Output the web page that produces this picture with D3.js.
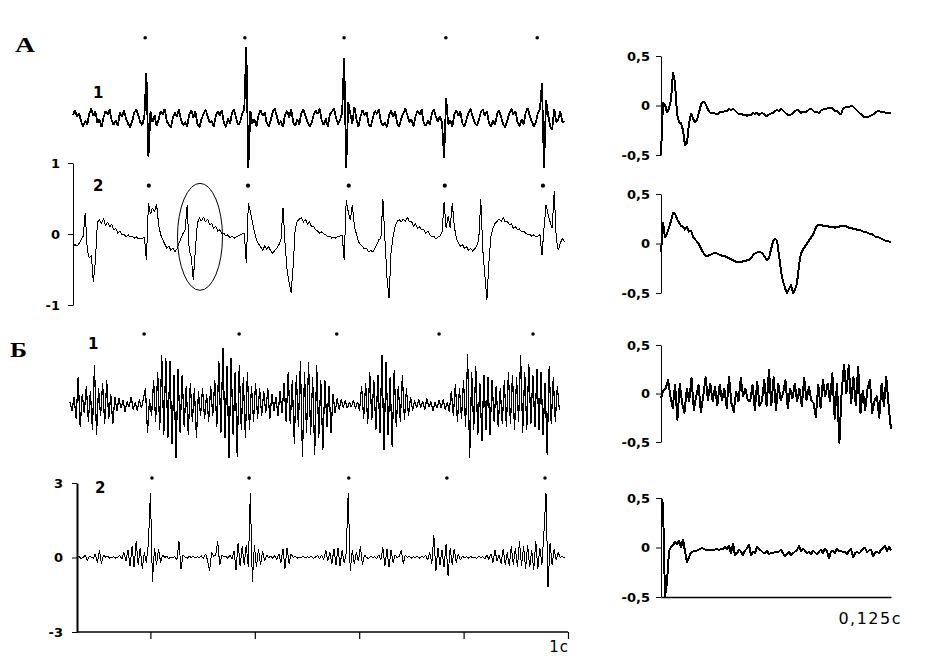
<!DOCTYPE html>
<html>
<head>
<meta charset="utf-8">
<script src="https://cdn.jsdelivr.net/npm/d3@7"></script>
<style>
  body { margin: 0; background: #ffffff; }
  svg text { fill: #000; }
</style>
</head>
<body>
<div id="chart"></div>
<script>
// ======== Data ========

// long recordings are sampled at 256 Hz, times in seconds
const sampleRate = 256;
const leftTickTimes = [0.2, 0.4, 0.6, 0.8, 1.0];
const shortDuration = 0.125;

// А1 - arbitrary units, no axis shown
const a1Start = 0.0517;
const a1Trace = [
    0.04, 0.11, 0.02, 0.07, -0.05, -0.12, -0.04, -0.09, 0.06, 0.13,
    0.03, 0.09, -0.07, -0.02, -0.13, 0.01, 0.10, 0.05, 0.12, -0.04,
    -0.10, -0.03, -0.11, 0.08, 0.02, 0.11, -0.01, -0.08, -0.13, -0.05,
    0.07, 0.12, 0.04, -0.06, -0.10, 0.02, 0.63, -0.55, 0.09, -0.06,
    0.04, -0.11, -0.02, 0.10, 0.05, 0.13, -0.05, -0.09, -0.14, 0.00,
    0.08, 0.02, 0.12, -0.03, -0.10, -0.06, -0.12, 0.05, 0.11, 0.01,
    0.09, -0.08, -0.13, -0.02, 0.06, 0.12, 0.03, -0.07, -0.04, -0.12,
    0.02, 0.10, 0.04, 0.11, -0.06, -0.13, -0.01, -0.08, 0.07, 0.12,
    0.00, -0.10, -0.05, 0.06, 0.12, 1.00, -0.70, 0.10, -0.08, -0.02,
    -0.12, 0.04, 0.11, 0.03, 0.08, -0.07, -0.12, -0.03, 0.09, 0.13,
    0.02, -0.09, -0.04, -0.13, 0.05, 0.10, 0.01, 0.12, -0.06, -0.11,
    -0.02, -0.09, 0.07, 0.12, 0.03, -0.05, -0.12, -0.07, 0.04, 0.11,
    0.06, 0.13, -0.04, -0.10, -0.01, -0.12, 0.05, 0.09, 0.14, 0.00,
    -0.09, -0.03, 0.07, 0.85, -0.70, 0.22, 0.06, -0.08, 0.16, -0.02,
    -0.12, 0.02, 0.11, 0.04, 0.08, -0.09, -0.12, -0.01, 0.10, 0.06,
    0.12, -0.05, -0.11, -0.06, -0.13, 0.04, 0.11, 0.02, 0.09, -0.08,
    -0.12, -0.01, 0.07, 0.13, 0.04, -0.06, -0.02, -0.12, 0.03, 0.10,
    0.05, 0.12, -0.07, -0.11, -0.04, -0.09, 0.06, 0.12, 0.01, -0.05,
    0.03, -0.07, -0.56, 0.28, -0.09, -0.03, -0.13, 0.05, 0.11, 0.03,
    0.09, -0.08, -0.12, -0.02, 0.07, 0.13, 0.02, -0.06, -0.11, -0.04,
    0.08, 0.12, 0.03, 0.10, -0.07, -0.12, -0.03, -0.10, 0.06, 0.11,
    0.01, -0.09, -0.13, -0.04, 0.07, 0.13, 0.05, 0.10, -0.06, -0.12,
    -0.02, -0.09, 0.08, 0.14, 0.03, -0.05, -0.12, -0.06, 0.07, 0.12,
    0.49, -0.70, 0.25, 0.05, -0.12, -0.16, 0.13, -0.06, -0.02, 0.09,
    -0.05, -0.06
];
const a1Marks = [0.190, 0.381, 0.571, 0.766, 0.941];

// А2
const a2Start = 0.0517;
const a2Ticks = [1, 0, -1];
const a2Trace = [
    -0.18, -0.15, -0.17, -0.13, -0.08, -0.03, 0.30, -0.22, -0.34, -0.30,
    -0.68, -0.37, 0.17, 0.20, 0.15, 0.22, 0.11, 0.17, 0.10, 0.14,
    0.06, 0.08, 0.01, 0.04, -0.01, 0.00, -0.04, -0.01, -0.04, -0.03,
    -0.06, -0.04, -0.07, -0.06, -0.07, -0.04, -0.37, 0.44, 0.28, 0.37,
    0.31, 0.42, 0.13, -0.01, -0.08, -0.14, -0.20, -0.17, -0.23, -0.20,
    -0.25, -0.21, -0.13, -0.06, 0.01, 0.06, 0.41, -0.23, -0.32, -0.65,
    -0.23, 0.15, 0.23, 0.18, 0.24, 0.17, 0.21, 0.13, 0.15, 0.08,
    0.11, 0.04, 0.06, 0.00, 0.01, -0.03, -0.01, -0.06, -0.03, -0.06,
    -0.04, -0.03, -0.01, 0.00, 0.01, -0.41, 0.44, 0.31, 0.17, 0.03,
    -0.08, -0.14, -0.18, -0.23, -0.17, -0.21, -0.18, -0.24, -0.27, -0.23,
    -0.20, -0.15, -0.08, 0.37, -0.13, -0.51, -0.68, -0.83, -0.44, 0.08,
    0.18, 0.21, 0.23, 0.17, 0.21, 0.14, 0.17, 0.10, 0.11, 0.06,
    0.04, 0.01, 0.03, 0.00, -0.01, -0.04, -0.03, -0.06, -0.04, -0.06,
    -0.03, -0.03, -0.01, -0.37, 0.48, 0.31, 0.20, 0.41, 0.11, 0.00,
    -0.11, -0.15, -0.18, -0.21, -0.20, -0.25, -0.23, -0.25, -0.21, -0.15,
    -0.08, -0.06, 0.49, -0.08, -0.62, -0.90, -0.25, -0.03, 0.11, 0.18,
    0.20, 0.17, 0.21, 0.18, 0.24, 0.17, 0.18, 0.11, 0.14, 0.08,
    0.10, 0.06, 0.07, 0.01, 0.04, -0.01, -0.04, -0.03, -0.07, -0.04,
    -0.03, 0.03, 0.45, 0.08, 0.25, 0.08, 0.44, 0.11, -0.06, -0.13,
    -0.17, -0.15, -0.20, -0.18, -0.23, -0.20, -0.24, -0.21, -0.17, -0.08,
    0.49, -0.23, -0.58, -0.93, -0.39, -0.03, 0.08, 0.15, 0.18, 0.21,
    0.18, 0.23, 0.17, 0.18, 0.13, 0.14, 0.08, 0.10, 0.06, 0.07,
    0.03, 0.04, 0.01, -0.01, 0.00, -0.03, -0.01, -0.04, -0.03, -0.01,
    -0.30, 0.08, 0.41, 0.28, 0.17, 0.08, 0.60, -0.06, -0.23, -0.13,
    -0.06, -0.11
];
const a2Marks = [0.197, 0.387, 0.580, 0.764, 0.952];

// Б1 - arbitrary units, no axis shown
const b1Start = 0.046;
const b1Trace = [
    0.05, -0.10, 0.15, -0.25, 0.50, -0.40, 0.20, -0.15, 0.35, -0.30,
    0.25, -0.45, 0.73, -0.55, 0.30, -0.20, 0.40, -0.35, 0.45, -0.25,
    0.20, -0.35, 0.15, -0.10, 0.12, -0.05, 0.08, -0.12, 0.06, -0.04,
    0.15, -0.08, 0.05, -0.10, 0.10, -0.06, 0.12, 0.30, -0.50, 0.10,
    -0.20, 0.45, -0.30, 0.60, -0.45, 0.90, -0.55, 0.85, -0.60, 0.80,
    -0.70, 0.55, -0.96, 0.65, -0.50, 0.55, -0.40, 0.35, -0.55, 0.40,
    -0.30, 0.30, -0.60, 0.25, -0.20, 0.30, -0.25, 0.20, -0.30, 0.35,
    -0.20, 0.45, -0.40, 0.80, -0.50, 1.04, -0.60, 0.70, -0.96, 0.85,
    -0.55, 0.60, -0.94, 0.72, -0.45, 0.50, -0.60, 0.60, -0.45, 0.35,
    -0.30, 0.40, -0.25, 0.30, -0.20, 0.25, -0.15, 0.30, -0.25, 0.20,
    -0.10, 0.15, -0.20, 0.25, -0.15, 0.40, -0.30, 0.60, -0.35, 0.45,
    -0.70, 0.55, -0.40, 0.80, -0.95, 0.60, -0.50, 0.78, -0.55, 0.50,
    -0.91, 0.72, -0.60, 0.45, -0.82, 0.45, -0.40, 0.35, -0.50, 0.20,
    -0.15, 0.12, -0.08, 0.10, -0.05, 0.08, -0.06, 0.05, -0.04, 0.09,
    -0.07, 0.06, -0.10, 0.35, -0.25, 0.40, -0.35, 0.60, -0.28, 0.45,
    -0.45, 0.55, -0.50, 0.90, -0.82, 0.78, -0.55, 0.50, -0.77, 0.64,
    -0.40, 0.35, -0.30, 0.55, -0.28, 0.30, -0.20, 0.15, -0.10, 0.08,
    -0.06, 0.10, -0.05, 0.07, -0.08, 0.12, -0.04, 0.06, -0.10, 0.05,
    -0.06, 0.08, -0.05, 0.10, -0.08, 0.05, -0.12, 0.25, -0.20, 0.38,
    -0.30, 0.30, -0.25, 0.45, -0.40, 0.93, -0.96, 0.60, -0.45, 0.70,
    -0.55, 0.40, -0.65, 0.55, -0.45, 0.50, -0.55, 0.45, -0.30, 0.35,
    -0.40, 0.30, -0.35, 0.45, -0.40, 0.60, -0.35, 0.55, -0.45, 0.50,
    -0.30, 0.91, -0.50, 0.60, -0.45, 0.75, -0.35, 0.55, -0.40, 0.65,
    -0.45, 0.60, -0.55, 0.40, -0.90, 0.70, -0.35, 0.50, -0.30, 0.35,
    -0.10
];
const b1Marks = [0.188, 0.370, 0.557, 0.753, 0.933];

// Б2
const b2Start = 0.0594;
const b2Ticks = [3, 0, -3];
const b2Trace = [
    0.00, 0.05, -0.05, 0.00, 0.10, -0.12, 0.05, 0.02, -0.03, 0.15,
    -0.20, 0.30, -0.25, 0.10, 0.02, 0.05, -0.02, 0.00, 0.04, -0.03,
    0.02, 0.08, -0.06, 0.20, -0.15, 0.30, -0.35, 0.45, -0.40, 0.65,
    -0.30, 0.40, -0.45, 0.20, -0.20, 0.55, 2.60, -0.97, 0.40, -0.30,
    0.35, -0.20, 0.10, 0.00, 0.05, -0.05, 0.02, 0.00, 0.04, -0.10,
    0.65, -0.45, 0.10, 0.02, -0.03, 0.05, 0.00, 0.04, -0.02, 0.03,
    0.00, 0.06, -0.04, 0.15, -0.10, -0.55, 0.20, 0.05, 0.10, 0.65,
    -0.30, 0.10, 0.02, 0.05, -0.03, 0.10, -0.05, 0.25, -0.50, 0.60,
    -0.35, 0.45, -0.30, 0.50, -0.40, 2.60, -1.00, 0.50, -0.40, 0.35,
    -0.30, 0.25, -0.15, 0.10, 0.00, 0.05, -0.03, 0.08, -0.10, 0.15,
    -0.20, 0.35, -0.45, 0.40, -0.25, 0.15, 0.00, 0.05, -0.03, 0.02,
    0.00, 0.04, -0.02, 0.03, 0.00, 0.05, -0.04, 0.02, 0.08, -0.05,
    0.10, -0.08, 0.30, -0.15, 0.20, -0.25, 0.35, -0.30, 0.40, -0.35,
    0.30, -0.20, 0.15, 2.60, -0.55, 0.30, -0.25, 0.20, -0.15, 0.45,
    -0.30, 0.10, 0.00, -0.05, 0.05, 0.00, 0.03, -0.04, 0.10, -0.10,
    0.40, -0.35, 0.35, -0.40, 0.30, -0.20, 0.10, 0.00, 0.05, 0.30,
    -0.25, 0.10, 0.00, 0.04, -0.02, 0.03, 0.00, 0.05, -0.03, 0.04,
    0.00, 0.08, -0.10, 0.20, -0.25, 0.90, -0.55, 0.40, -0.30, 0.30,
    -0.40, 0.55, -0.75, 0.40, -0.30, 0.35, -0.20, 0.15, -0.10, 0.05,
    0.00, 0.03, -0.02, 0.04, 0.00, 0.02, -0.03, 0.05, 0.00, 0.03,
    -0.05, 0.10, -0.08, 0.15, -0.20, 0.30, -0.15, 0.10, -0.25, 0.35,
    -0.30, 0.20, -0.35, 0.45, -0.30, 0.40, -0.40, 0.65, -0.35, 0.45,
    -0.45, 0.50, -0.40, 0.30, -0.50, 0.65, -0.45, 0.40, -0.30, 1.00,
    2.60, -1.20, 0.60, -0.30, 0.35, -0.10, 0.20, 0.00, 0.05, -0.02
];
const b2Marks = [0.203, 0.389, 0.580, 0.768, 0.956];

// short windows on the right (0 .. 0.125 s)
const rightTicks = [0.5, 0, -0.5];

const rightA1Trace = [
    -0.50, 0.03, 0.01, -0.07, -0.03, 0.06, 0.33, 0.23, -0.08, -0.17,
    -0.18, -0.25, -0.40, -0.38, -0.18, -0.08, -0.13, -0.17, -0.15, -0.07,
    0.01, 0.04, 0.03, -0.02, -0.06, -0.08, -0.07, -0.08, -0.09, -0.08,
    -0.06, -0.07, -0.05, -0.06, -0.03, -0.05, -0.03, -0.05, -0.07, -0.09,
    -0.08, -0.10, -0.09, -0.11, -0.09, -0.10, -0.07, -0.09, -0.07, -0.10,
    -0.08, -0.08, -0.10, -0.11, -0.09, -0.08, -0.08, -0.06, -0.04, -0.06,
    -0.03, -0.05, -0.07, -0.09, -0.10, -0.09, -0.08, -0.06, -0.04, -0.05,
    -0.08, -0.06, -0.07, -0.06, -0.04, -0.03, -0.05, -0.07, -0.06, -0.08,
    -0.05, -0.04, -0.04, -0.03, -0.03, -0.02, -0.03, -0.06, -0.05, -0.08,
    -0.09, -0.03, -0.02, -0.01, -0.02, 0.00, -0.01, -0.03, -0.05, -0.07,
    -0.09, -0.11, -0.12, -0.12, -0.11, -0.10, -0.09, -0.08, -0.06, -0.05,
    -0.07, -0.06, -0.07, -0.08, -0.07, -0.08
];

const rightA2Trace = [
    -0.09, 0.21, 0.06, 0.10, 0.16, 0.23, 0.31, 0.30, 0.25, 0.21,
    0.18, 0.17, 0.14, 0.17, 0.12, 0.13, 0.07, 0.04, 0.02, -0.01,
    -0.05, -0.09, -0.12, -0.13, -0.12, -0.11, -0.10, -0.10, -0.10, -0.11,
    -0.12, -0.13, -0.13, -0.14, -0.15, -0.16, -0.17, -0.18, -0.19, -0.19,
    -0.19, -0.18, -0.18, -0.17, -0.17, -0.15, -0.12, -0.10, -0.09, -0.08,
    -0.09, -0.11, -0.14, -0.17, -0.15, -0.06, 0.02, 0.05, 0.03, -0.12,
    -0.28, -0.38, -0.45, -0.50, -0.46, -0.42, -0.50, -0.47, -0.40, -0.22,
    -0.10, -0.06, -0.03, 0.00, 0.03, 0.06, 0.09, 0.14, 0.18, 0.19,
    0.19, 0.18, 0.18, 0.18, 0.17, 0.17, 0.17, 0.16, 0.17, 0.17,
    0.18, 0.18, 0.18, 0.17, 0.16, 0.16, 0.15, 0.15, 0.14, 0.14,
    0.13, 0.12, 0.12, 0.11, 0.10, 0.10, 0.09, 0.07, 0.07, 0.06,
    0.05, 0.04, 0.03, 0.03, 0.02, 0.01
];

const rightB1Trace = [
    -0.05, 0.03, 0.05, 0.14, -0.03, -0.15, 0.09, -0.27, 0.10, -0.10,
    -0.20, 0.05, -0.08, 0.16, -0.17, -0.03, 0.09, -0.19, -0.03, 0.17,
    -0.07, 0.10, -0.08, 0.07, -0.12, 0.09, -0.07, 0.05, -0.15, 0.17,
    -0.10, -0.19, 0.02, -0.08, 0.16, -0.03, 0.05, -0.07, -0.08, 0.09,
    -0.17, 0.12, -0.13, -0.08, 0.14, -0.13, 0.24, -0.12, 0.17, -0.17,
    0.10, -0.07, 0.00, 0.14, -0.15, 0.05, -0.05, 0.10, -0.08, 0.05,
    -0.13, 0.16, -0.07, 0.07, -0.07, -0.10, -0.24, 0.09, -0.15, 0.14,
    -0.03, 0.10, -0.08, 0.21, -0.26, 0.10, -0.51, 0.03, 0.30, 0.00,
    0.29, -0.10, 0.17, -0.12, 0.27, -0.20, 0.03, -0.17, 0.05, 0.14,
    -0.20, -0.07, -0.03, -0.25, 0.10, -0.13, 0.17, -0.13, -0.37
];

const rightB2Trace = [
    0.50, 0.45, -0.50, -0.35, -0.04, 0.01, 0.02, 0.06, 0.03, 0.07,
    0.00, 0.08, -0.04, -0.15, -0.10, -0.05, -0.04, -0.04, -0.03, -0.02,
    -0.01, -0.01, -0.02, -0.03, -0.03, -0.02, -0.03, -0.02, -0.01, -0.03,
    -0.01, -0.02, 0.01, -0.02, 0.02, -0.06, 0.04, -0.08, -0.06, -0.02,
    -0.04, -0.08, -0.03, -0.01, 0.03, -0.08, -0.04, -0.06, 0.01, -0.02,
    -0.03, -0.05, -0.06, -0.03, -0.07, -0.05, -0.06, -0.04, -0.05, -0.04,
    -0.02, -0.06, -0.09, -0.07, -0.04, -0.08, -0.06, -0.04, -0.03, 0.02,
    -0.04, -0.01, -0.03, -0.06, -0.04, -0.07, -0.03, -0.05, -0.07, -0.04,
    -0.02, -0.06, -0.01, -0.04, -0.11, -0.04, -0.03, -0.06, -0.01, -0.04,
    -0.03, -0.05, -0.04, -0.07, -0.03, -0.01, -0.10, -0.06, -0.04, -0.06,
    -0.04, -0.01, 0.00, -0.05, -0.03, -0.02, -0.09, -0.05, -0.04, -0.06,
    -0.02, -0.01, 0.02, -0.04, 0.01, -0.03
];


// ======== Layout ========
const width = 935;
const height = 669;

const svg = d3.select("#chart")
    .append("svg")
    .attr("width", width)
    .attr("height", height);

// time scales: left = 1 s recordings, right = 0.125 s windows
const xLong = d3.scaleLinear().domain([0, 1]).range([46, 568]);
const xShort = d3.scaleLinear().domain([0, shortDuration]).range([661, 891]);

// y scales for each strip
const yA1 = d3.scaleLinear().domain([-1, 1]).range([189, 47]);
const yA2 = d3.scaleLinear().domain([-1, 1]).range([305, 163]);
const yB1 = d3.scaleLinear().domain([-1, 1]).range([460, 350]);
const yB2 = d3.scaleLinear().domain([-3, 3]).range([632, 483]);

const yRA1 = d3.scaleLinear().domain([-0.5, 0.5]).range([155, 56]);
const yRA2 = d3.scaleLinear().domain([-0.5, 0.5]).range([293, 194]);
const yRB1 = d3.scaleLinear().domain([-0.5, 0.5]).range([442, 345]);
const yRB2 = d3.scaleLinear().domain([-0.5, 0.5]).range([597, 498]);

// comma decimals, like the original
const commaFormat = d => String(d).replace(".", ",");


// ======== Long traces ========
DrawLongTrace(a1Trace, a1Start, yA1, 1.8);
DrawLongTrace(a2Trace, a2Start, yA2, 1);
DrawLongTrace(b1Trace, b1Start, yB1, 1.2);
DrawLongTrace(b2Trace, b2Start, yB2, 1);

DrawMarks(a1Marks, yA1(1.13), 1.8);
DrawMarks(a2Marks, yA2(0.68), 2.1);
DrawMarks(b1Marks, yB1(1.29), 1.8);
DrawMarks(b2Marks, yB2(3.2), 1.8);

DrawYAxis(73, yA2, a2Ticks, 13, 1);
DrawYAxis(77, yB2, b2Ticks, 14, 2);

// bottom time axis under Б2 (only the 1 s tick is labelled)
const timeAxis = svg.append("g")
    .attr("transform", `translate(0, ${yB2(-3)})`)
    .call(d3.axisBottom(xLong).tickValues(leftTickTimes).tickSize(7).tickFormat(""));
timeAxis.select(".domain").remove();
timeAxis.selectAll("line").attr("stroke", "#000").attr("stroke-width", 1.2);
svg.append("line")
    .attr("x1", 77).attr("x2", xLong(1))
    .attr("y1", yB2(-3)).attr("y2", yB2(-3))
    .attr("stroke", "#000").attr("stroke-width", 1.5);

svg.append("text")
    .attr("x", xLong(1) + 1)
    .attr("y", 652)
    .attr("text-anchor", "end")
    .style("font-family", "DejaVu Sans, sans-serif")
    .style("font-size", "15px")
    .style("letter-spacing", "1px")
    .text("1с");

// ellipse around the second complex of А2
svg.append("ellipse")
    .attr("cx", xLong(0.295))
    .attr("cy", yA2(-0.04))
    .attr("rx", 22.5)
    .attr("ry", 53.5)
    .attr("fill", "none")
    .attr("stroke", "#000")
    .attr("stroke-width", 1);


// ======== Short traces ========
DrawShortTrace(rightA1Trace, yRA1);
DrawShortTrace(rightA2Trace, yRA2);
DrawShortTrace(rightB1Trace, yRB1);
DrawShortTrace(rightB2Trace, yRB2);

[yRA1, yRA2, yRB1, yRB2].forEach(y => DrawYAxis(661, y, rightTicks, 11, 1));

// x axis of the last short window
const shortAxis = svg.append("g")
    .attr("transform", `translate(0, ${yRB2(-0.5)})`)
    .call(d3.axisBottom(xShort).tickValues([]).tickSizeOuter(0));
shortAxis.select(".domain").attr("stroke", "#000").attr("stroke-width", 1.3);

svg.append("text")
    .attr("x", 902)
    .attr("y", 624)
    .attr("text-anchor", "end")
    .style("font-family", "DejaVu Sans, sans-serif")
    .style("font-size", "16px")
    .style("letter-spacing", "1.5px")
    .text("0,125с");


// ======== Labels ========
AddLetter("А", 15, 52, 20);
AddLetter("Б", 10, 357, 17);

AddNumber("1", 93, 97.5);
AddNumber("2", 93, 190.5);
AddNumber("1", 88, 348.5);
AddNumber("2", 95, 492.5);


// ======== Helper Functions ========

function DrawLongTrace(values, startTime, yScale, strokeWidth)
/* one 256 Hz trace on the shared 1 s time scale */ {
    const line = d3.line()
        .x((d, i) => xLong(startTime + i / sampleRate))
        .y(d => yScale(d));

    svg.append("path")
        .datum(values)
        .attr("d", line)
        .attr("fill", "none")
        .attr("stroke", "#000")
        .attr("stroke-width", strokeWidth)
        .attr("stroke-linejoin", "miter")
        .attr("stroke-miterlimit", 2)
        .attr("shape-rendering", "crispEdges");
}

function DrawShortTrace(values, yScale)
/* trace spread evenly over the 0.125 s window */ {
    const step = shortDuration / (values.length - 1);
    const line = d3.line()
        .x((d, i) => xShort(i * step))
        .y(d => yScale(d));

    svg.append("path")
        .datum(values)
        .attr("d", line)
        .attr("fill", "none")
        .attr("stroke", "#000")
        .attr("stroke-width", 2)
        .attr("stroke-linejoin", "round")
        .attr("shape-rendering", "crispEdges");
}

function DrawMarks(times, yPos, r)
/* the small dots above each trace */ {
    svg.append("g")
        .selectAll("circle")
        .data(times)
        .join("circle")
        .attr("cx", d => xLong(d))
        .attr("cy", yPos)
        .attr("r", r)
        .attr("fill", "#000");
}

function DrawYAxis(xPos, yScale, ticks, spacing, thickness) {
    const g = svg.append("g")
        .attr("transform", `translate(${xPos}, 0)`)
        .call(d3.axisLeft(yScale)
            .tickValues(ticks)
            .tickSize(5)
            .tickSizeOuter(0)
            .tickPadding(spacing - 5)
            .tickFormat(commaFormat));

    g.select(".domain").attr("stroke", "#000").attr("stroke-width", thickness);
    g.selectAll(".tick line").attr("stroke", "#000");
    g.selectAll(".tick text")
        .style("font-family", "DejaVu Sans, sans-serif")
        .style("font-weight", "bold")
        .style("font-size", "13px")
        .attr("fill", "#000");
}

function AddLetter(txt, x, y, w) {
    svg.append("text")
        .attr("x", x)
        .attr("y", y)
        .attr("textLength", w)
        .attr("lengthAdjust", "spacingAndGlyphs")
        .style("font-family", "Liberation Serif, serif")
        .style("font-weight", "bold")
        .style("font-size", "20px")
        .text(txt);
}

function AddNumber(txt, x, y) {
    svg.append("text")
        .attr("x", x)
        .attr("y", y)
        .style("font-family", "DejaVu Sans, sans-serif")
        .style("font-weight", "bold")
        .style("font-size", "15px")
        .text(txt);
}
</script>
</body>
</html>
